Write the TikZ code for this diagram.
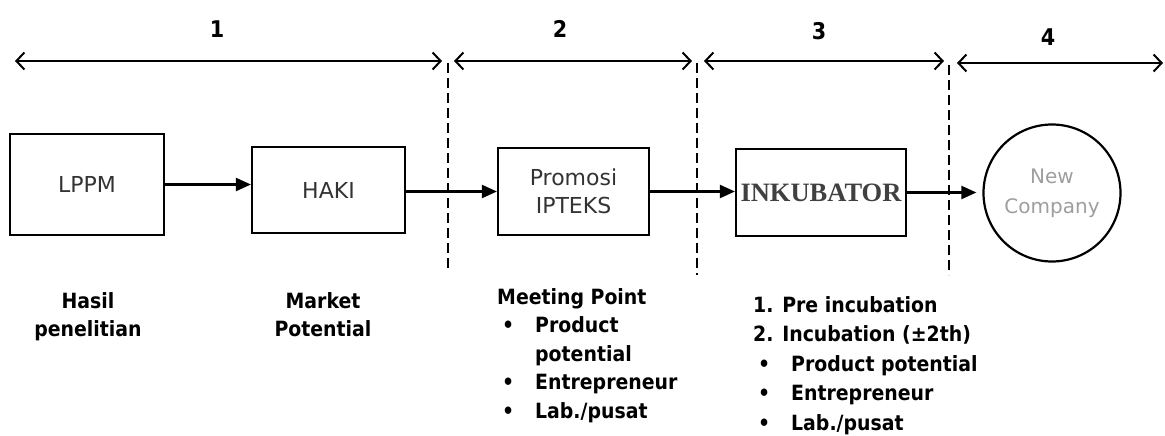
\documentclass[tikz,border=0pt]{standalone}
\usepackage{fontspec}
\setmainfont{DejaVu Sans}
\newfontfamily\condfont{DejaVu Sans Condensed}
\newfontfamily\serffont{Liberation Serif}
\usetikzlibrary{arrows.meta}

\newcommand{\blt}{\hspace*{5pt}\makebox[33pt][l]{\textbullet}}
\newcommand{\bltgap}{\hspace*{38pt}}

\begin{document}
\begin{tikzpicture}[x=1pt,y=-1pt]
		\begin{scope}
		
		\tikzstyle{mybox}=[rectangle,
		draw=black,
		line width=2.2pt,
		inner sep=0pt,
		text=black!80,
		font=\fontsize{22}{28}\selectfont,
		align=center
		]
		\tikzstyle{mycircle}=[circle,
		draw=black,
		line width=2.2pt,
		inner sep=0pt,
		minimum size=137pt,
		text=black!38,
		font=\fontsize{20}{30}\selectfont,
		align=center
		]
		\tikzstyle{mynote}=[inner sep=0pt,
		text=black,
		font=\condfont\bfseries\fontsize{21}{28.5}\selectfont
		]
		\tikzstyle{mynum}=[inner sep=0pt,
		font=\condfont\bfseries\fontsize{23}{23}\selectfont
		]
		\tikzstyle{myspan}=[line width=2pt,
		{Straight Barb[length=8pt,width=17pt,line width=2pt]}-{Straight Barb[length=8pt,width=17pt,line width=2pt]}
		]
		\tikzstyle{mylink}=[line width=2.2pt,
		-{Triangle[length=15pt,width=13pt]}
		]
		\tikzstyle{mysep}=[line width=2pt,
		dash pattern=on 10pt off 5pt
		]
		
		\useasboundingbox (0,0) rectangle (1165,436);
		
		\coordinate (pb1) at (87, 184.5);
		\coordinate (pb2) at (328.5, 190);
		\coordinate (pb3) at (573.5, 191.5);
		\coordinate (pb4) at (821, 192.5);
		\coordinate (pb5) at (1052, 193);
		
		\node[mybox, minimum width=154pt, minimum height=101pt] (b1) at (pb1) {LPPM};
		\node[mybox, minimum width=153pt, minimum height=86pt] (b2) at (pb2) {HAKI};
		\node[mybox, minimum width=151pt, minimum height=87pt] (b3) at (pb3) {Promosi\\IPTEKS};
		\node[mybox, minimum width=170pt, minimum height=87pt, text=black!75,
		font=\serffont\bfseries\fontsize{26.5}{26}\selectfont] (b4) at (pb4) {INKUBATOR};
		\node[mycircle] (b5) at (pb5) {New\\Company};
		
		\draw[mylink] (b1.east) -- (b1.east -| b2.west);
		\draw[mylink] (b2.east |- b3.west) -- (b3.west);
		\draw[mylink] (b3.east) -- (b3.east -| b4.west);
		\draw[mylink, shorten >=6pt] (b4.east) -- (b4.east -| b5.west);
		
		% top spans
		\coordinate (s1a) at (15, 61);
		\coordinate (s1b) at (442, 61);
		\coordinate (s2a) at (454, 61);
		\coordinate (s2b) at (692, 61);
		\coordinate (s3a) at (704, 61);
		\coordinate (s3b) at (944, 61);
		\coordinate (s4a) at (957, 63);
		\coordinate (s4b) at (1163, 63);
		
		\draw[myspan] (s1a) -- (s1b);
		\draw[myspan] (s2a) -- (s2b);
		\draw[myspan] (s3a) -- (s3b);
		\draw[myspan] (s4a) -- (s4b);
		
		\node[mynum] (n1) at (217, 29) {1};
		\node[mynum] (n2) at (560, 29) {2};
		\node[mynum] (n3) at (819, 31) {3};
		\node[mynum] (n4) at (1048, 37) {4};
		
		\coordinate (d1a) at (448, 63);
		\coordinate (d1b) at (448, 272);
		\coordinate (d2a) at (697, 63);
		\coordinate (d2b) at (697, 275);
		\coordinate (d3a) at (949, 65);
		\coordinate (d3b) at (949, 275);
		
		\draw[mysep] (d1a) -- (d1b);
		\draw[mysep] (d2a) -- (d2b);
		\draw[mysep] (d3a) -- (d3b);
		
		% notes under the boxes
		\node[mynote, anchor=north, align=center] (t1) at (88, 292) {Hasil\\penelitian};
		\node[mynote, anchor=north, align=center] (t2) at (323, 292) {Market\\Potential};
		\node[mynote, anchor=north west, align=left] (t3) at (497, 288) {Meeting Point\\
			\blt Product\\
			\bltgap potential\\
			\blt Entrepreneur\\
			\blt Lab./pusat};
		\node[mynote, anchor=north west, align=left,
		font=\condfont\bfseries\fontsize{21}{29.5}\selectfont] (t4) at (753, 296) {1. Pre incubation\\
			2. Incubation (±2th)\\
			\blt Product potential\\
			\blt Entrepreneur\\
			\blt Lab./pusat};
		
		\end{scope}
		\end{tikzpicture}
\end{document}
